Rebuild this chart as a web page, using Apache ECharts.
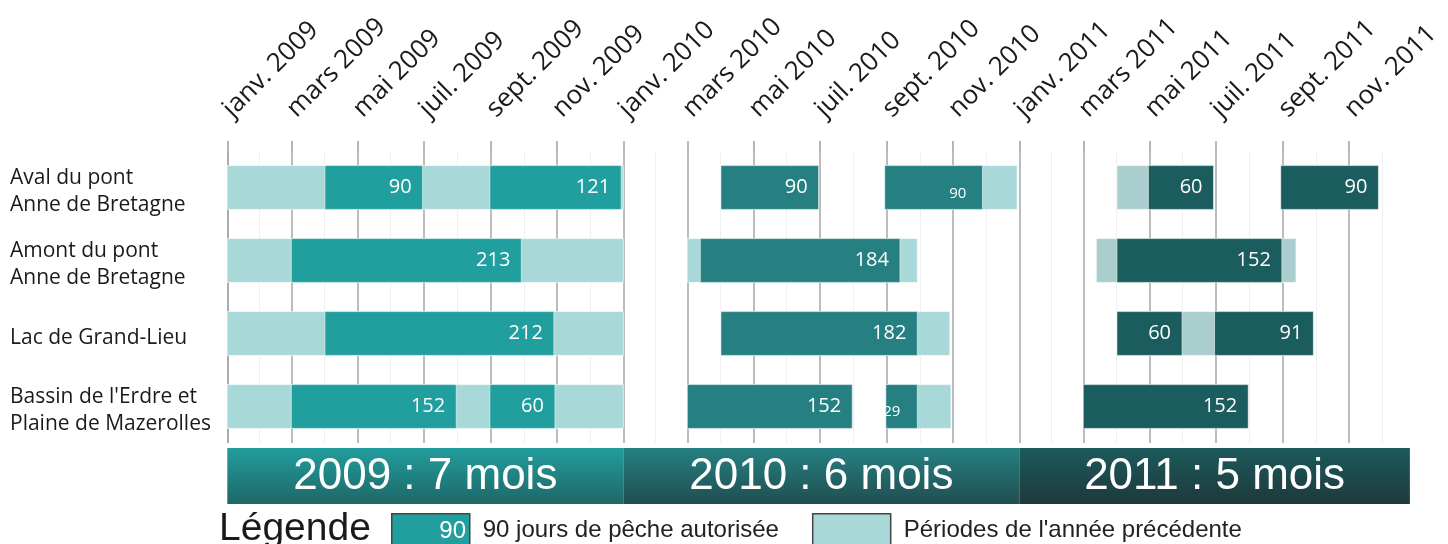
<!DOCTYPE html>
<html><head><meta charset="utf-8">
<script src="https://cdn.jsdelivr.net/npm/echarts@6/dist/echarts.min.js"></script>
<style>html,body{margin:0;padding:0;background:#fff}#c{width:1448px;height:544px}</style>
</head><body><div id="c"></div>
<script>
// ---------- data ----------
const categories = [
  "Aval du pont\nAnne de Bretagne",
  "Amont du pont\nAnne de Bretagne",
  "Lac de Grand-Lieu",
  "Bassin de l'Erdre et\nPlaine de Mazerolles"
];
const monthNames = ['janv.','févr.','mars','avr.','mai','juin','juil.','août','sept.','oct.','nov.','déc.'];
const axisStart = '2009-01-01';
const axisEnd = '2012-01-01';
// authorised fishing periods: [row, start, end (exclusive), days]
const fishingPeriods = [
  [0,'2009-04-01','2009-06-30',90],
  [0,'2009-08-31','2009-12-30',121],
  [1,'2009-03-01','2009-09-29',213],
  [2,'2009-04-01','2009-10-29',212],
  [3,'2009-03-01','2009-07-31',152],
  [3,'2009-08-31','2009-10-30',60],
  [0,'2010-04-01','2010-06-30',90],
  [0,'2010-08-30','2010-11-28',90],
  [1,'2010-03-13','2010-09-13',184],
  [2,'2010-04-01','2010-09-29',182],
  [3,'2010-03-01','2010-07-31',152],
  [3,'2010-08-31','2010-09-29',29],
  [0,'2011-04-30','2011-06-29',60],
  [0,'2011-08-30','2011-11-28',90],
  [1,'2011-04-01','2011-08-31',152],
  [2,'2011-04-01','2011-05-31',60],
  [2,'2011-06-30','2011-09-29',91],
  [3,'2011-03-01','2011-07-31',152]
];
// periods of the previous year: [row, start, end (exclusive)]
const previousPeriods = [
  [0,'2009-01-01','2010-01-01'],
  [1,'2009-01-01','2010-01-01'],
  [2,'2009-01-01','2010-01-01'],
  [3,'2009-01-01','2010-01-01'],
  [0,'2010-04-01','2010-06-30'],
  [0,'2010-08-30','2010-12-30'],
  [1,'2010-03-01','2010-09-29'],
  [2,'2010-04-01','2010-10-29'],
  [3,'2010-03-01','2010-07-31'],
  [3,'2010-08-31','2010-10-30'],
  [0,'2011-04-01','2011-06-29'],
  [1,'2011-03-13','2011-09-13'],
  [2,'2011-04-01','2011-09-29']
];
// yearly summary band: [start, end, label]
const seasons = [
  ['2009-01-01','2010-01-01','2009 : 7 mois'],
  ['2010-01-01','2011-01-01','2010 : 6 mois'],
  ['2011-01-01','2011-12-27','2011 : 5 mois']
];
const legendNames = ['90 jours de pêche autorisée', "Périodes de l'année précédente"];
const legendSample = '90';

// ---------- styles ----------
const darkColors = {2009:'#219e9e', 2010:'#268081', 2011:'#1b5c5e'};
const lightColors = {2009:'#a9d8d8', 2010:'#a9d8d8', 2011:'#aacece'};
const bandColors = {2009:['#229d9d','#1f6767'], 2010:['#258081','#214e51'], 2011:['#1c5a5c','#1e393b']};
const labelTweaks = {7:{size:15, pad:16, dy:6}, 11:{size:15, pad:17, dy:5}};
const UI = "'Open Sans','Noto Sans',sans-serif";
const ARIAL = "'Liberation Sans',Arial,sans-serif";

const ts = s => new Date(s + 'T00:00:00').getTime();
const fishingData = fishingPeriods.map(d => [d[0], ts(d[1]), ts(d[2]), d[3]]);
const previousData = previousPeriods.map(d => [d[0], ts(d[1]), ts(d[2])]);
const seasonData = seasons.map((d, i) => [ts(d[0]), ts(d[1]), i]);

function barGeom(params, api) {
  const row = api.value(0);
  const p0 = api.coord([api.value(1), row]);
  const p1 = api.coord([api.value(2), row]);
  const h = api.size([0, 1])[1] * 0.6;
  return {x: p0[0], y: p0[1] - h / 2, width: p1[0] - p0[0], height: h, cy: p0[1]};
}

const chart = echarts.init(document.getElementById('c'), null, {renderer: 'canvas'});
const gridLeft = 227.3, gridRight = 32.7;

chart.setOption({
  animation: false,
  backgroundColor: '#fff',
  title: {
    text: 'Légende', left: 219, top: 510, padding: 0,
    textStyle: {fontSize: 39, fontWeight: 'normal', fontFamily: ARIAL, color: '#1a1a1a'}
  },
  legend: {
    data: legendNames, left: 391, top: 513, padding: 0, itemWidth: 78, itemHeight: 34, itemGap: 33,
    icon: 'rect', selectedMode: false,
    itemStyle: {borderColor: '#444', borderWidth: 1.5},
    textStyle: {fontSize: 24, fontFamily: ARIAL, color: '#222', padding: [0, 0, 0, 8]}
  },
  graphic: [{
    type: 'text', x: 466, y: 531, z: 100, zlevel: 1,
    style: {text: legendSample, align: 'right', verticalAlign: 'middle', fontSize: 24, fontFamily: ARIAL, fill: '#fff'}
  }],
  grid: [
    {left: gridLeft, right: gridRight, top: 151, height: 292},
    {left: gridLeft, right: gridRight, top: 448, height: 56}
  ],
  xAxis: [{
    type: 'time', position: 'top', gridIndex: 0,
    min: ts(axisStart), max: ts(axisEnd),
    splitNumber: 15, minInterval: 62 * 86400000, maxInterval: 62 * 86400000,
    axisLine: {lineStyle: {color: '#a0a0a0', width: 2}},
    axisTick: {show: true, length: 10, lineStyle: {color: '#a0a0a0', width: 1.5}},
    splitLine: {show: true, showMaxLine: false, lineStyle: {color: '#a6a6a6', width: 1.5}},
    minorTick: {show: false, splitNumber: 2},
    minorSplitLine: {show: true, lineStyle: {color: '#f0f0f0', width: 1}},
    axisLabel: {
      rotate: -45, margin: 38, fontSize: 26, fontFamily: UI, color: '#1a1a1a',
      showMaxLabel: false,
      formatter: v => { const d = new Date(v); return monthNames[d.getMonth()] + ' ' + d.getFullYear(); }
    }
  }, {
    type: 'time', gridIndex: 1, show: false, min: ts(axisStart), max: ts(axisEnd)
  }],
  yAxis: [{
    type: 'category', gridIndex: 0, data: categories, inverse: true,
    axisLine: {show: false}, axisTick: {show: false}, splitLine: {show: false},
    axisLabel: {
      align: 'left', margin: 217.3, fontSize: 21, lineHeight: 27, fontFamily: UI, color: '#1a1a1a',
      formatter: v => '{s| }\n' + v.split('\n').map(l => '{t|' + l + '}').join('\n'),
      rich: {
        s: {fontSize: 1, lineHeight: 9},
        t: {fontSize: 21, lineHeight: 27, fontFamily: UI, color: '#1a1a1a'}
      }
    }
  }, {
    type: 'category', gridIndex: 1, data: ['band'], show: false
  }],
  series: [{
    name: legendNames[1], type: 'custom', xAxisIndex: 0, yAxisIndex: 0,
    itemStyle: {color: lightColors[2009]},
    encode: {x: [1, 2], y: 0},
    data: previousData,
    renderItem: (params, api) => {
      const g = barGeom(params, api);
      const yr = new Date(api.value(1)).getFullYear();
      return {type: 'rect', shape: {x: g.x, y: g.y, width: g.width, height: g.height},
        style: {fill: lightColors[yr], stroke: 'rgba(255,255,255,0.6)', lineWidth: 1}};
    }
  }, {
    name: legendNames[0], type: 'custom', xAxisIndex: 0, yAxisIndex: 0,
    itemStyle: {color: darkColors[2009]},
    encode: {x: [1, 2], y: 0},
    data: fishingData,
    renderItem: (params, api) => {
      const g = barGeom(params, api);
      const yr = new Date(api.value(1)).getFullYear();
      const t = labelTweaks[params.dataIndex] || {size: 20, pad: 11, dy: 0};
      return {type: 'group', children: [
        {type: 'rect', shape: {x: g.x, y: g.y, width: g.width, height: g.height},
          style: {fill: darkColors[yr], stroke: 'rgba(255,255,255,0.55)', lineWidth: 1}},
        {type: 'text', style: {text: String(api.value(3)), x: g.x + g.width - t.pad, y: g.cy + t.dy,
          align: 'right', verticalAlign: 'middle', fontSize: t.size, fontFamily: UI, fill: '#fff'}}
      ]};
    }
  }, {
    type: 'custom', xAxisIndex: 1, yAxisIndex: 1,
    encode: {x: [0, 1]},
    data: seasonData,
    renderItem: (params, api) => {
      const p0 = api.coord([api.value(0), 0]);
      const p1 = api.coord([api.value(1), 0]);
      const cs = params.coordSys;
      const i = api.value(2);
      const yr = new Date(api.value(0)).getFullYear();
      const c = bandColors[yr];
      return {type: 'group', children: [
        {type: 'rect', shape: {x: p0[0], y: cs.y, width: p1[0] - p0[0], height: cs.height},
          style: {fill: new echarts.graphic.LinearGradient(0, 0, 0, 1, [{offset: 0, color: c[0]}, {offset: 1, color: c[1]}])}},
        {type: 'text', style: {text: seasons[i][2], x: (p0[0] + p1[0]) / 2, y: cs.y + cs.height / 2 + 1,
          align: 'center', verticalAlign: 'middle', fontSize: 44, fontFamily: ARIAL, fill: '#fff'}}
      ]};
    }
  }]
});
</script></body></html>
